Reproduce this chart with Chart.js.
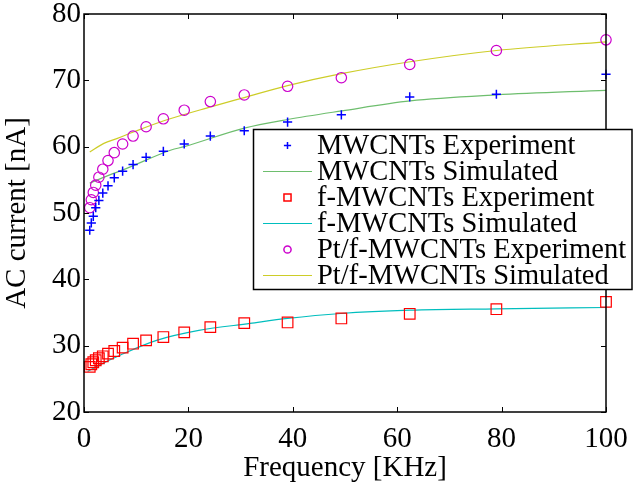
<!DOCTYPE html>
<html>
<head>
<meta charset="utf-8">
<script src="https://cdn.jsdelivr.net/npm/chart.js@4.4.1/dist/chart.umd.min.js"></script>
<style>
  html, body { margin: 0; padding: 0; background: #fff; }
  #wrap { width: 635px; height: 486px; position: relative; }
</style>
</head>
<body>
<div id="wrap"><canvas id="c" width="635" height="486"></canvas></div>
<script>
// ---- Data ----
const expFreq = [1.1, 1.4, 1.78, 2.25, 2.85, 3.6, 4.6, 5.8, 7.4, 9.4, 11.9, 15.2, 19.2, 24.2, 30.7, 39, 49.3, 62.4, 79, 100];
const mwcntExp = [47.4, 48.5, 49.5, 50.8, 51.9, 53.0, 54.1, 55.3, 56.3, 57.3, 58.4, 59.3, 60.4, 61.6, 62.4, 63.7, 64.8, 67.5, 67.9, 70.9];
const fmwcntExp = [26.8, 27.2, 27.5, 27.8, 28.1, 28.4, 28.8, 29.2, 29.7, 30.3, 30.8, 31.3, 32.0, 32.8, 33.4, 33.5, 34.1, 34.8, 35.5, 36.6];
const ptExp = [50.8, 52.0, 53.1, 54.2, 55.4, 56.6, 57.9, 59.1, 60.4, 61.6, 63.0, 64.2, 65.5, 66.8, 67.8, 69.1, 70.4, 72.4, 74.5, 76.1];

const mwcntSimFreq = [1.1, 3.5, 8.4, 16.7, 19.2, 30.7, 39, 49.4, 62.5, 79, 100];
const mwcntSim = [54.5, 55.3, 56.8, 59.5, 60.0, 62.8, 64.1, 65.4, 66.9, 67.8, 68.5];
const fmwcntSimFreq = [0.7, 3, 7, 13.9, 22, 31.8, 39, 49.2, 62.5, 79, 100];
const fmwcntSim = [26.1, 27.1, 28.6, 30.8, 32.3, 33.35, 34.1, 34.85, 35.35, 35.55, 35.75];
const ptSimFreq = [1.1, 3.8, 6.4, 9.6, 15.3, 24.3, 30.7, 39, 49.3, 62.5, 79, 100];
const ptSim = [59.2, 60.5, 61.25, 62.25, 63.9, 66.0, 67.4, 69.2, 71.0, 72.8, 74.5, 75.8];

const xTicks = [0, 20, 40, 60, 80, 100];
const yTicks = [20, 30, 40, 50, 60, 70, 80];

const seriesLabels = [
  'MWCNTs Experiment', 'MWCNTs Simulated',
  'f-MWCNTs Experiment', 'f-MWCNTs Simulated',
  'Pt/f-MWCNTs Experiment', 'Pt/f-MWCNTs Simulated'
];

function pts(xs, ys) { return xs.map((x, i) => ({ x: x, y: ys[i] })); }

const FONT = '"Liberation Serif", "Times New Roman", serif';
const BLUE = '#0000ff', RED = '#ff0000', MAG = '#cc00cc';
const GREEN = 'rgb(110,190,110)', CYAN = 'rgb(0,190,190)', YEL = 'rgb(205,205,40)';

const datasets = [
  { label: seriesLabels[0], data: pts(expFreq, mwcntExp), showLine: false,
    pointStyle: 'cross', pointRadius: 4.6, borderColor: BLUE, backgroundColor: BLUE, pointBorderWidth: 1.5, clip: false, order: 1 },
  { label: seriesLabels[1], data: pts(mwcntSimFreq, mwcntSim), showLine: true, pointRadius: 0,
    borderColor: GREEN, borderWidth: 1.2, cubicInterpolationMode: 'monotone', clip: false, order: 2 },
  { label: seriesLabels[2], data: pts(expFreq, fmwcntExp), showLine: false,
    pointStyle: 'rect', pointRadius: 7.5, borderColor: RED, backgroundColor: 'rgba(0,0,0,0)', pointBorderWidth: 1.2, clip: false, order: 1 },
  { label: seriesLabels[3], data: pts(fmwcntSimFreq, fmwcntSim), showLine: true, pointRadius: 0,
    borderColor: CYAN, borderWidth: 1.2, cubicInterpolationMode: 'monotone', clip: false, order: 2 },
  { label: seriesLabels[4], data: pts(expFreq, ptExp), showLine: false,
    pointStyle: 'circle', pointRadius: 5.2, borderColor: MAG, backgroundColor: 'rgba(0,0,0,0)', pointBorderWidth: 1.2, clip: false, order: 1 },
  { label: seriesLabels[5], data: pts(ptSimFreq, ptSim), showLine: true, pointRadius: 0,
    borderColor: YEL, borderWidth: 1.2, cubicInterpolationMode: 'monotone', clip: false, order: 2 }
];

const framePlugin = {
  id: 'frame',
  afterDatasetsDraw(chart) {
    const ctx = chart.ctx, a = chart.chartArea;
    const xs = chart.scales.x, ys = chart.scales.y;
    ctx.save();
    ctx.strokeStyle = '#000';
    ctx.lineWidth = 1.5;
    ctx.strokeRect(a.left, a.top, a.right - a.left, a.bottom - a.top);
    ctx.lineWidth = 1;
    const L = 5;
    ctx.beginPath();
    xTicks.forEach(v => {
      const px = Math.round(xs.getPixelForValue(v)) + 0.5;
      ctx.moveTo(px, a.bottom); ctx.lineTo(px, a.bottom - L);
      ctx.moveTo(px, a.top); ctx.lineTo(px, a.top + L);
    });
    yTicks.forEach(v => {
      const py = Math.round(ys.getPixelForValue(v)) + 0.5;
      ctx.moveTo(a.left, py); ctx.lineTo(a.left + L, py);
      ctx.moveTo(a.right, py); ctx.lineTo(a.right - L, py);
    });
    ctx.stroke();

    // Legend box (drawn on top of data)
    const bx = 253.5, by = 129.5, bw = 378.5, bh = 160;
    ctx.fillStyle = '#fff';
    ctx.fillRect(bx, by, bw, bh);
    ctx.strokeStyle = '#000';
    ctx.lineWidth = 1.5;
    ctx.strokeRect(bx, by, bw, bh);
    const rowY0 = 145.5, rowH = 26;
    ctx.font = '28.5px ' + FONT;
    ctx.textBaseline = 'middle';
    ctx.textAlign = 'left';
    chart.data.datasets.forEach((ds, i) => {
      const y = rowY0 + i * rowH;
      const cx = 287.5;
      ctx.save();
      ctx.strokeStyle = ds.borderColor;
      ctx.fillStyle = 'rgba(0,0,0,0)';
      if (ds.showLine) {
        ctx.lineWidth = 1.2;
        ctx.beginPath(); ctx.moveTo(263, y); ctx.lineTo(312, y); ctx.stroke();
      } else {
        Chart.helpers.drawPoint(ctx, {
          pointStyle: ds.pointStyle, radius: ds.pointStyle === 'rect' ? 5 : 3.6,
          borderWidth: 1.2, rotation: 0
        }, cx, y);
      }
      ctx.restore();
      ctx.fillStyle = '#000';
      ctx.fillText(ds.label, 317, y + 1);
    });
    ctx.restore();
  }
};

new Chart(document.getElementById('c'), {
  type: 'scatter',
  data: { datasets: datasets },
  options: {
    responsive: false,
    animation: false,
    devicePixelRatio: 1,
    layout: { padding: { top: 14, right: 29, left: 0, bottom: 0 } },
    plugins: { legend: { display: false }, tooltip: { enabled: false } },
    scales: {
      x: {
        type: 'linear', min: 0, max: 100,
        afterFit(s) { s.height = 74; s.paddingLeft = 0; s.paddingRight = 0; },
        afterBuildTicks(s) { s.ticks = xTicks.map(v => ({ value: v })); },
        grid: { display: false, drawTicks: false },
        border: { display: false },
        ticks: { color: '#000', font: { family: FONT, size: 29 }, padding: 10, maxRotation: 0 },
        title: { display: true, text: 'Frequency [KHz]', color: '#000', font: { family: FONT, size: 29 }, padding: { top: 0, bottom: 0 } }
      },
      y: {
        type: 'linear', min: 20, max: 80,
        afterFit(s) { s.width = 84; s.paddingTop = 0; s.paddingBottom = 0; },
        afterBuildTicks(s) { s.ticks = yTicks.map(v => ({ value: v })); },
        grid: { display: false, drawTicks: false },
        border: { display: false },
        ticks: { color: '#000', font: { family: FONT, size: 29 }, padding: 3 },
        title: { display: true, text: 'AC current [nA]', color: '#000', font: { family: FONT, size: 29 }, padding: { top: 0, bottom: 0 } }
      }
    }
  },
  plugins: [framePlugin]
});
</script>
</body>
</html>
